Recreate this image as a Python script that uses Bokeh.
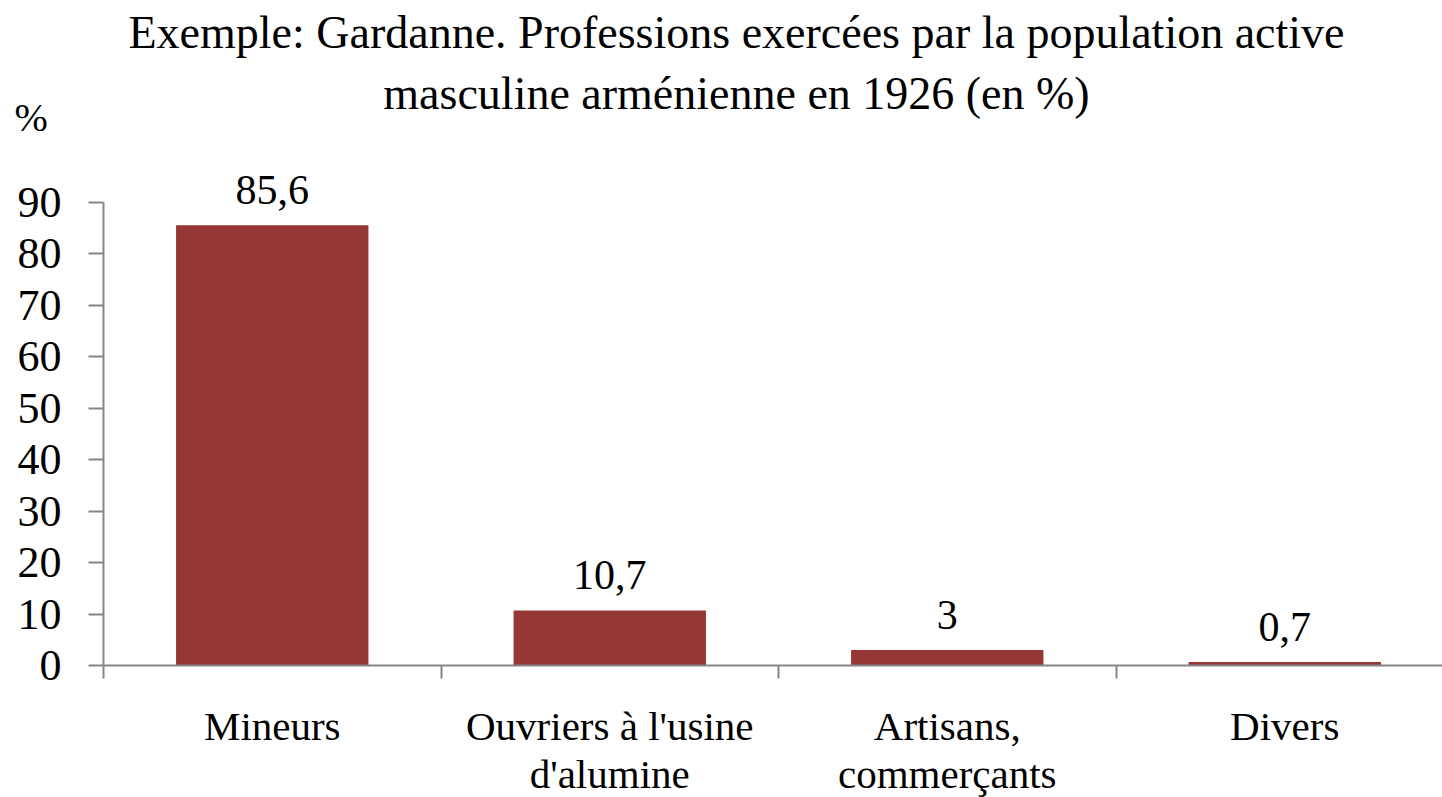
from bokeh.plotting import figure
from bokeh.models import Range1d, FixedTicker, ColumnDataSource
from bokeh.core.properties import value
from bokeh.embed import file_html
from bokeh.resources import INLINE
import numpy as np

# ---- data ----
categories = ["Mineurs", "Ouvriers à l'usine\nd'alumine", "Artisans,\ncommerçants", "Divers"]
values = [85.6, 10.7, 3.0, 0.7]
value_labels = ["85,6", "10,7", "3", "0,7"]
y_ticks = [0, 10, 20, 30, 40, 50, 60, 70, 80, 90]
title_lines = ["Exemple: Gardanne. Professions exercées par la population active",
               "masculine arménienne en 1926 (en %)"]
y_unit = "%"

# ---- layout constants (pixels) ----
FONT = "Liberation Serif"
BAR_COLOR = "#953735"
AXIS_COLOR = "#868686"
W, H = 1442, 797
X0_PX = 103          # pixel of x = 0 (y axis)
CAT_PX = 337.5       # pixels per category
Y0_PX = 665          # pixel of y = 0 (x axis)
YU_PX = 463 / 90     # pixels per y unit

def dx(px):
    return (px - X0_PX) / CAT_PX

def dy(py):
    return (Y0_PX - py) / YU_PX

p = figure(width=W, height=H, output_backend="svg", toolbar_location=None,
           x_range=Range1d(dx(0), dx(W)), y_range=Range1d(dy(H), dy(0)),
           min_border_left=0, min_border_right=0, min_border_top=0,
           min_border_bottom=0)
p.outline_line_color = None
p.grid.visible = False
p.background_fill_color = "white"
p.border_fill_color = "white"

xs = np.arange(len(categories)) + 0.5
src = ColumnDataSource(dict(x=xs, top=values, lab=value_labels))
p.vbar(x="x", top="top", width=0.57, bottom=0, source=src,
       fill_color=BAR_COLOR, line_color=None)

p.text(x="x", y="top", text="lab", source=src, y_offset=-35,
       text_align="center", text_baseline="alphabetic",
       text_font=value(FONT), text_font_size="42px", text_color="black")

# y axis
ya = p.yaxis[0]
ya.fixed_location = 0
ya.bounds = (0, y_ticks[-1])
ya.ticker = FixedTicker(ticks=y_ticks)
ya.axis_line_color = AXIS_COLOR
ya.axis_line_width = 2
ya.major_tick_line_color = AXIS_COLOR
ya.major_tick_line_width = 2
ya.major_tick_out = 15
ya.major_tick_in = 0
ya.minor_tick_line_color = None
ya.major_label_text_font = FONT
ya.major_label_text_font_size = "44px"
ya.major_label_text_color = "black"
ya.major_label_standoff = 27

# x axis
xa = p.xaxis[0]
xa.fixed_location = 0
xa.bounds = (0, dx(W))
xa.ticker = FixedTicker(ticks=list(xs), minor_ticks=list(range(len(categories) + 1)))
xa.major_label_overrides = {float(x): c for x, c in zip(xs, categories)}
xa.axis_line_color = AXIS_COLOR
xa.axis_line_width = 2
xa.major_tick_line_color = None
xa.major_tick_out = 0
xa.major_tick_in = 0
xa.minor_tick_line_color = AXIS_COLOR
xa.minor_tick_line_width = 2
xa.minor_tick_out = 13
xa.minor_tick_in = 0
xa.major_label_text_font = FONT
xa.major_label_text_font_size = "41px"
xa.major_label_text_color = "black"
xa.major_label_text_line_height = 1.05
xa.major_label_standoff = 24

# title lines and unit
p.text(x=[dx(736)] * 2, y=[dy(32), dy(93)], text=title_lines,
       text_align="center", text_baseline="alphabetic",
       text_font=value(FONT), text_font_size="46px", text_color="black")
p.text(x=[dx(14)], y=[dy(117)], text=[y_unit],
       text_align="left", text_baseline="alphabetic",
       text_font=value(FONT), text_font_size="40px", text_color="black")

open("out.html", "w").write(file_html(p, INLINE))
